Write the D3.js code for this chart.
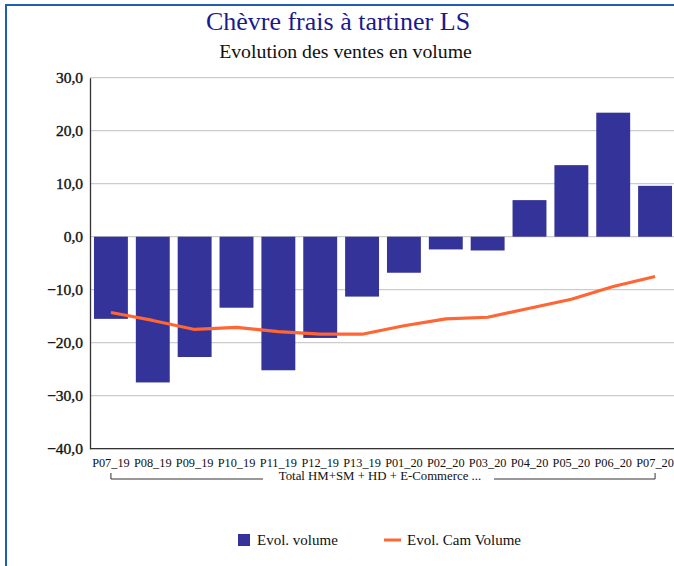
<!DOCTYPE html>
<html><head><meta charset="utf-8">
<script src="https://cdn.jsdelivr.net/npm/d3@7"></script>
<style>body{margin:0;background:#fff}svg{display:block}</style>
</head><body>
<svg id="c" width="674" height="566"></svg>
<script>
const categories = ["P07_19","P08_19","P09_19","P10_19","P11_19","P12_19","P13_19","P01_20","P02_20","P03_20","P04_20","P05_20","P06_20","P07_20"];
const evolVolume = [-15.5,-27.5,-22.7,-13.4,-25.2,-19.1,-11.3,-6.8,-2.4,-2.6,6.9,13.5,23.4,9.6];
const evolCamVolume = [-14.3,-15.8,-17.5,-17.1,-17.9,-18.4,-18.4,-16.8,-15.5,-15.2,-13.5,-11.8,-9.4,-7.5];
const yTicks = [30,20,10,0,-10,-20,-30,-40];
const groupLabel = "Total HM+SM + HD + E-Commerce ...";
const seriesNames = ["Evol. volume","Evol. Cam Volume"];

const svg = d3.select("#c");
const lib = "'Liberation Serif', serif";

// frame
svg.append("path").attr("d","M6,566 V5 H674").attr("fill","none").attr("stroke","#1f5fb0").attr("stroke-width",2);

svg.append("text").attr("x",338).attr("y",30).attr("text-anchor","middle")
  .attr("font-family",lib).attr("font-size",26).attr("fill","#1a1a8c").text("Chèvre frais à tartiner LS");
svg.append("text").attr("x",345.5).attr("y",58).attr("text-anchor","middle")
  .attr("font-family",lib).attr("font-size",19.8).attr("fill","#111").text("Evolution des ventes en volume");

const x = d3.scaleBand().domain(categories).range([90,676]).paddingInner(0.19).paddingOuter(0.095);
const y = d3.scaleLinear().domain([-40,30]).range([448.7,77.7]);

// gridlines
svg.append("g").selectAll("line").data(yTicks).join("line")
  .attr("x1",90).attr("x2",674).attr("y1",d=>y(d)).attr("y2",d=>y(d))
  .attr("stroke","#cccccc").attr("stroke-width",1.3);

// y axis
const ya = svg.append("g").attr("transform","translate(90,0)")
  .call(d3.axisLeft(y).tickValues(yTicks).tickSize(0).tickPadding(7).tickFormat(d=>d3.format(".1f")(d).replace(".",",")));
ya.select(".domain").attr("stroke","#333").attr("stroke-width",1.3);
ya.selectAll("text").attr("font-family",lib).attr("font-size",15.5).attr("fill","#111")
  .attr("stroke","#111").attr("stroke-width",0.35);

// bottom axis line
svg.append("line").attr("x1",90).attr("x2",674).attr("y1",y(-40)).attr("y2",y(-40)).attr("stroke","#333").attr("stroke-width",1.3);

// bars
svg.append("g").selectAll("rect").data(categories).join("rect")
  .attr("x",d=>x(d)).attr("width",x.bandwidth())
  .attr("y",(d,i)=>y(Math.max(0,evolVolume[i])))
  .attr("height",(d,i)=>Math.abs(y(evolVolume[i])-y(0)))
  .attr("fill","#333399");

// line
const line = d3.line().x((d,i)=>x(categories[i])+x.bandwidth()/2).y(d=>y(d));
svg.append("path").datum(evolCamVolume).attr("d",line).attr("fill","none")
  .attr("stroke","#ff6633").attr("stroke-width",3.2).attr("stroke-linejoin","round");

// x labels
const xa = svg.append("g").attr("transform",`translate(0,${y(-40)})`)
  .call(d3.axisBottom(x).tickSize(0).tickPadding(10));
xa.select(".domain").remove();
xa.selectAll("text").attr("font-family",lib).attr("font-size",12.3).attr("fill","#111");

// group bracket
const gx0 = x(categories[0])+x.bandwidth()/2, gx1 = x(categories[categories.length-1])+x.bandwidth()/2;
const gy = 479;
svg.append("text").attr("x",380).attr("y",480).attr("text-anchor","middle")
  .attr("font-family",lib).attr("font-size",12.8).attr("fill","#111").text(groupLabel);
svg.append("path").attr("d",`M${gx0},${gy-6} V${gy} H263 M494,${gy} H${gx1} V${gy-6}`)
  .attr("fill","none").attr("stroke","#333").attr("stroke-width",1);

// legend
const lg = svg.append("g");
lg.append("rect").attr("x",238).attr("y",534).attr("width",12).attr("height",12).attr("fill","#333399");
lg.append("text").attr("x",257).attr("y",545).attr("font-family",lib).attr("font-size",15).attr("fill","#111").text(seriesNames[0]);
lg.append("line").attr("x1",384).attr("x2",401).attr("y1",540).attr("y2",540).attr("stroke","#ff6633").attr("stroke-width",3);
lg.append("text").attr("x",407).attr("y",545).attr("font-family",lib).attr("font-size",15).attr("fill","#111").text(seriesNames[1]);
</script>
</body></html>
